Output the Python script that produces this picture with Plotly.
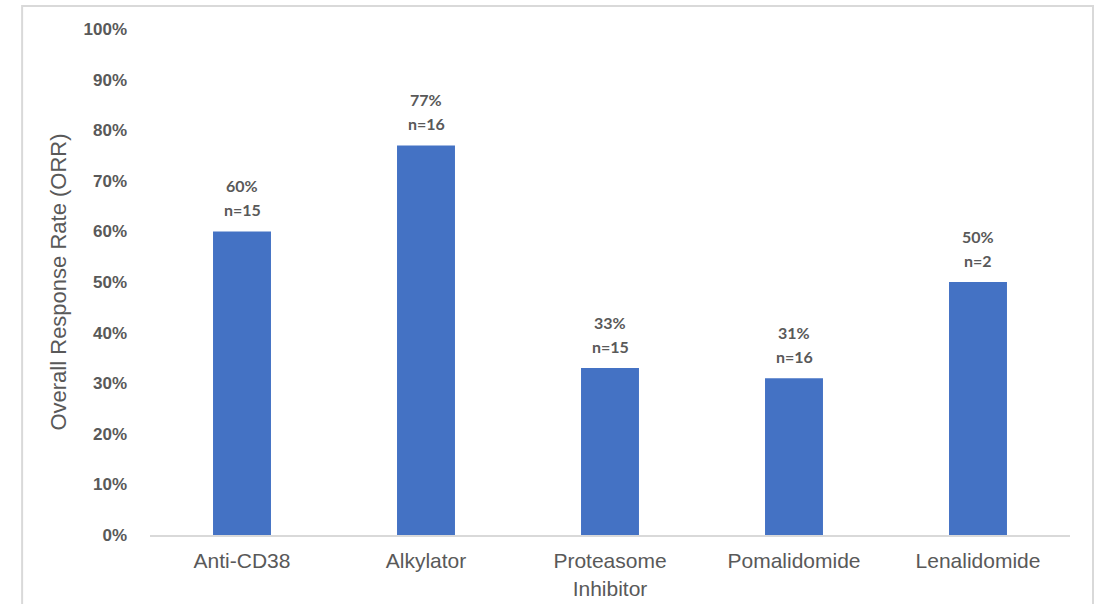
import plotly.graph_objects as go

categories = ["Anti-CD38", "Alkylator", "Proteasome<br>Inhibitor", "Pomalidomide", "Lenalidomide"]
orr = [0.60, 0.77, 0.33, 0.31, 0.50]
n_patients = [15, 16, 15, 16, 2]
y_ticks = [i / 10 for i in range(11)]
y_tick_labels = [f"{i * 10}%" for i in range(11)]

LABEL_FONT = dict(family="Lato, Liberation Sans, sans-serif", size=16, color="#595959", weight="bold")
AXIS_FAMILY = "Liberation Sans, Arial, sans-serif"

fig = go.Figure(
    go.Bar(
        x=categories,
        y=orr,
        marker=dict(color="#4472C4", line=dict(width=0)),
        width=0.315,
        hoverinfo="x+y",
    )
)

# two-line value labels above each bar: percentage on top, sample size below
annotations = []
for cat, v, n in zip(categories, orr, n_patients):
    annotations.append(dict(x=cat, y=v, xref="x", yref="y", text=f"n={n}",
                            showarrow=False, yanchor="middle", yshift=22, font=LABEL_FONT))
    annotations.append(dict(x=cat, y=v, xref="x", yref="y", text=f"{round(v * 100)}%",
                            showarrow=False, yanchor="middle", yshift=46, font=LABEL_FONT))

fig.update_layout(
    width=1102,
    height=604,
    margin=dict(l=150, r=32, t=29, b=69),
    paper_bgcolor="white",
    plot_bgcolor="white",
    showlegend=False,
    annotations=annotations,
    xaxis=dict(
        automargin=False,
        showgrid=False,
        showline=True,
        linecolor="#d9d9d9",
        linewidth=2,
        ticks="",
        ticklabelstandoff=6,
        tickfont=dict(family=AXIS_FAMILY, size=21, color="#595959"),
    ),
    yaxis=dict(
        automargin=False,
        range=[0, 1],
        tickvals=y_ticks,
        ticktext=y_tick_labels,
        showgrid=False,
        zeroline=False,
        showline=False,
        ticks="",
        ticklabelstandoff=22,
        tickfont=dict(family=AXIS_FAMILY, size=17, color="#595959", weight="bold"),
        title=dict(
            text="Overall Response Rate (ORR)",
            font=dict(family=AXIS_FAMILY, size=22, color="#595959"),
            standoff=10,
        ),
    ),
    shapes=[
        dict(
            type="rect",
            xref="paper",
            yref="paper",
            x0=-0.139,
            x1=1.025,
            y0=-0.2,
            y1=1.0456,
            line=dict(color="#d9d9d9", width=2),
            fillcolor="rgba(0,0,0,0)",
            layer="below",
        )
    ],
)

fig.write_html("out.html")
